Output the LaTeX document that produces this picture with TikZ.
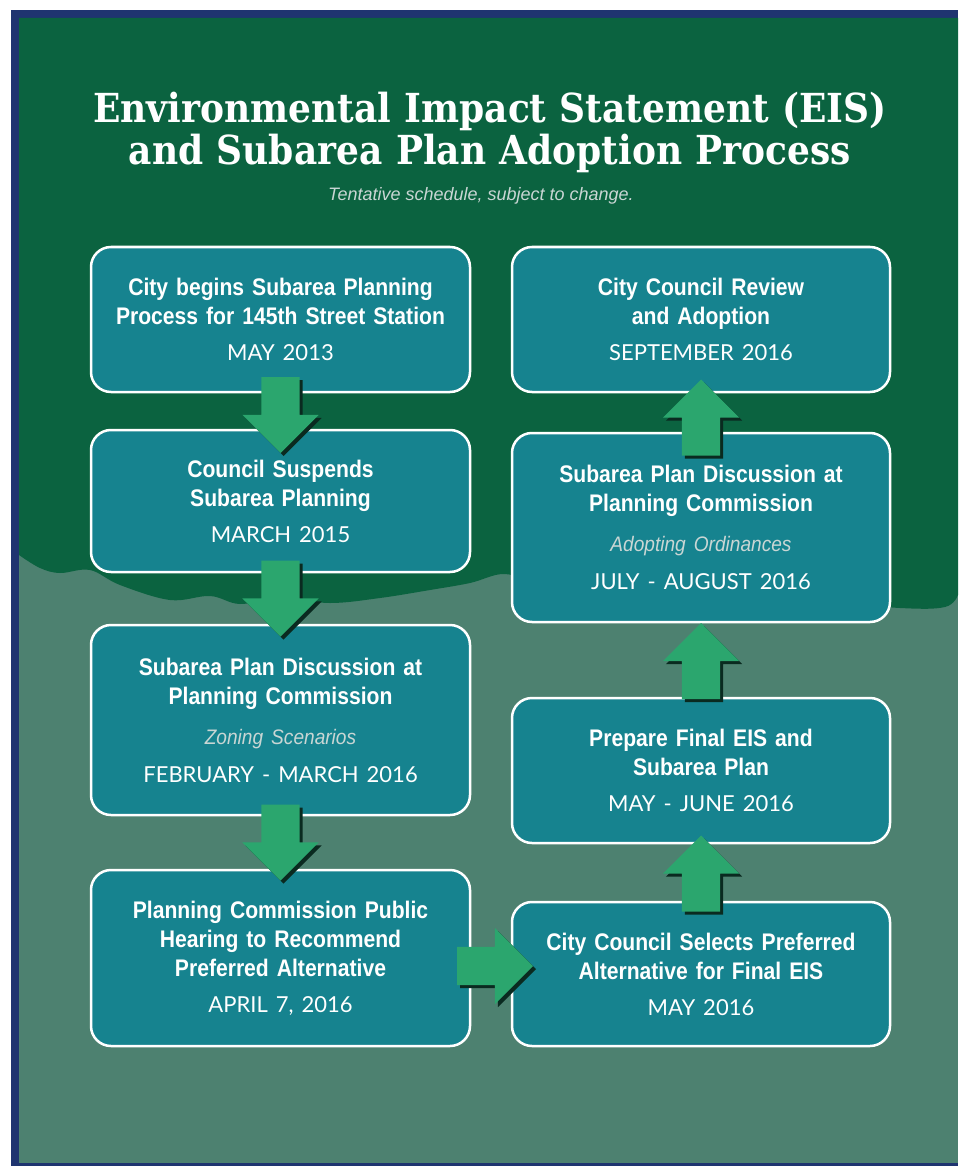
\documentclass[tikz,border=0pt]{standalone}
\usepackage{fontspec}
\usepackage{tikz}
\usetikzlibrary{shapes.arrows, shadows, positioning, calc}

\newfontfamily\titlefont{DejaVu Serif}[FakeStretch=0.90]
\newfontfamily\subfont{Liberation Sans}
\newfontfamily\headfont{Liberation Sans}[FakeStretch=0.88]
\newfontfamily\notefont{Liberation Sans}[FakeStretch=0.91]
\newfontfamily\datefont{Lato}

\definecolor{navyframe}{HTML}{1F3470}
\definecolor{forest}{HTML}{0B6340}
\definecolor{sage}{HTML}{4D8170}
\definecolor{tealbox}{HTML}{16838F}
\definecolor{arrowgreen}{HTML}{2BA66E}
\definecolor{shadowgreen}{HTML}{0A2A20}
\definecolor{notegray}{HTML}{C9D6D4}

\newcommand{\StepHead}[1]{{\headfont\bfseries #1}}
\newcommand{\StepNote}[1]{{\notefont\itshape\color{notegray}\fontsize{21}{29}\selectfont #1}}
\newcommand{\StepDate}[1]{{\datefont\fontsize{22}{29}\selectfont #1}}

\begin{document}
\begin{tikzpicture}[
    x=1pt, y=-1pt,
    every node/.style={align=center, text=white},
    stepbox/.style={draw=white, line width=2.5pt, fill=tealbox, rounded corners=20pt,
      inner sep=0pt, outer sep=0pt, minimum width=379pt, text width=370pt,
      font=\fontsize{24}{29}\selectfont},
    blockarrow/.style={single arrow, fill=arrowgreen, minimum height=76pt,
      single arrow head extend=19pt, inner sep=19pt, outer sep=0pt, anchor=tip,
      general shadow={fill=shadowgreen, shadow xshift=3pt, shadow yshift=-3pt}}
  ]
    \useasboundingbox (0,0) rectangle (958,1166);

    % background: frame, lower sage area, upper forest area
    \fill[white] (0,0) rectangle (958,1166);
    \fill[navyframe] (11,10) rectangle (958,1166);
    \fill[sage] (19,18) rectangle (958,1163);
    \fill[forest] plot[smooth, tension=0.6] coordinates {(958,595) (945,607) (900,608) (800,600)
        (700,604) (600,600) (540,586) (505,574) (470,583) (430,590) (380,598) (330,603)
        (280,598) (240,604) (210,596) (170,600) (120,585) (90,570) (60,573) (40,568) (19,555)}
      -- (19,18) -- (958,18) -- cycle;

    % title
    \node[text width=900pt, font=\titlefont\bfseries\fontsize{40}{42}\selectfont] (title) at (490,132)
      {Environmental Impact Statement (EIS)\\and Subarea Plan Adoption Process};
    \node[font=\subfont\itshape\fontsize{18}{20}\selectfont, text=notegray] (subtitle) at (481,196)
      {Tentative schedule, subject to change.};

    % left column
    \node[stepbox, minimum height=145pt] (L1) at (280.5,319.5)
      {\StepHead{City begins Subarea Planning\\Process for 145th Street Station}\\[7pt]\StepDate{MAY 2013}};
    \node[stepbox, minimum height=142pt, below=38pt of L1] (L2)
      {\StepHead{Council Suspends\\Subarea Planning}\\[7pt]\StepDate{MARCH 2015}};
    \node[stepbox, minimum height=190pt, below=53pt of L2] (L3)
      {\StepHead{Subarea Plan Discussion at\\Planning Commission}\\[11pt]\StepNote{Zoning Scenarios}\\[9pt]\StepDate{FEBRUARY - MARCH 2016}};
    \node[stepbox, minimum height=176pt, below=55pt of L3] (L4)
      {\StepHead{Planning Commission Public\\Hearing to Recommend\\Preferred Alternative}\\[7pt]\StepDate{APRIL 7, 2016}};

    % right column
    \node[stepbox, minimum width=378pt, minimum height=145pt] (R1) at (701,319.5)
      {\StepHead{City Council Review\\and Adoption}\\[7pt]\StepDate{SEPTEMBER 2016}};
    \node[stepbox, minimum width=378pt, minimum height=189pt, below=41pt of R1] (R2)
      {\StepHead{Subarea Plan Discussion at\\Planning Commission}\\[11pt]\StepNote{Adopting Ordinances}\\[9pt]\StepDate{JULY - AUGUST 2016}};
    \node[stepbox, minimum width=378pt, minimum height=145pt, below=76pt of R2] (R3)
      {\StepHead{Prepare Final EIS and\\Subarea Plan}\\[7pt]\StepDate{MAY - JUNE 2016}};
    \node[stepbox, minimum width=378pt, minimum height=144pt, below=59pt of R3] (R4)
      {\StepHead{City Council Selects Preferred\\Alternative for Final EIS}\\[7pt]\StepDate{MAY 2016}};

    % arrows between steps
    \node[blockarrow, shape border rotate=270] (a1) at ($(L1.south)!0.5!(L2.north)+(0,42)$) {};
    \node[blockarrow, shape border rotate=270] (a2) at ($(L2.south)!0.5!(L3.north)+(0,38)$) {};
    \node[blockarrow, shape border rotate=270] (a3) at ($(L3.south)!0.5!(L4.north)+(0,38)$) {};
    \node[blockarrow] (a4) at ($(L4.east)!0.5!(R4.west)+(42,0)$) {};
    \node[blockarrow, shape border rotate=90] (a5) at ($(R4.north)!0.5!(R3.south)+(0,-37)$) {};
    \node[blockarrow, shape border rotate=90] (a6) at ($(R3.north)!0.5!(R2.south)+(0,-37)$) {};
    \node[blockarrow, shape border rotate=90] (a7) at ($(R2.north)!0.5!(R1.south)+(0,-33)$) {};

  \end{tikzpicture}
\end{document}
